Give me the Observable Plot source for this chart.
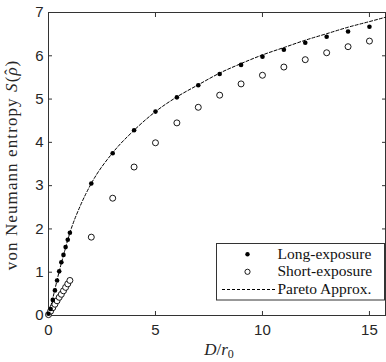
<!DOCTYPE html>
<html>
<head>
<meta charset="utf-8">
<script src="https://cdn.jsdelivr.net/npm/d3@7"></script>
<script src="https://cdn.jsdelivr.net/npm/@observablehq/plot@0.6"></script>
<style>
  html, body { margin: 0; padding: 0; background: #fff; }
  #chart svg { display: block; }
</style>
</head>
<body>
<div id="chart"></div>
<script>
// D/r0 sample positions
const dValues = [0, 0.1, 0.2, 0.3, 0.4, 0.5, 0.6, 0.7, 0.8, 0.9, 1, 2, 3, 4, 5, 6, 7, 8, 9, 10, 11, 12, 13, 14, 15];
// Long-exposure entropy
const longExposure = [0.04, 0.15, 0.36, 0.58, 0.81, 1.02, 1.23, 1.40, 1.58, 1.75, 1.91, 3.05, 3.75, 4.28, 4.71, 5.04, 5.32, 5.58, 5.79, 5.98, 6.14, 6.30, 6.44, 6.56, 6.67];
// Short-exposure entropy
const shortExposure = [0.02, 0.10, 0.18, 0.26, 0.34, 0.42, 0.49, 0.57, 0.65, 0.73, 0.81, 1.81, 2.71, 3.43, 3.99, 4.45, 4.81, 5.09, 5.35, 5.55, 5.74, 5.91, 6.07, 6.21, 6.34];
// Pareto approximation curve
const paretoD = [0, 0.25, 0.5, 0.75, 1, 1.5, 2, 3, 4, 5, 6, 7, 8, 9, 10, 11, 12, 13, 14, 15, 15.75];
const paretoS = [0, 0.5, 1.02, 1.48, 1.91, 2.55, 3.05, 3.76, 4.28, 4.71, 5.05, 5.33, 5.6, 5.82, 6.02, 6.19, 6.36, 6.51, 6.66, 6.79, 6.89];
// Ticks
const xTicks = [0, 5, 10, 15];
const yTicks = [0, 1, 2, 3, 4, 5, 6, 7];
const legendLabels = ["Long-exposure", "Short-exposure", "Pareto Approx."];

const longData = dValues.map((d, i) => ({D: d, S: longExposure[i]}));
const shortData = dValues.map((d, i) => ({D: d, S: shortExposure[i]}));
const paretoData = paretoD.map((d, i) => ({D: d, S: paretoS[i]}));

const axisColor = "#333";
const tickFont = "'Liberation Sans', Arial, sans-serif";

const plot = Plot.plot({
  width: 386,
  height: 362,
  marginLeft: 48,
  marginRight: 1,
  marginTop: 12,
  marginBottom: 47,
  style: {fontFamily: tickFont, fontSize: "15px", color: "#262626", background: "white"},
  x: {domain: [0, 15.75]},
  y: {domain: [0, 7]},
  marks: [
    Plot.frame({stroke: axisColor, strokeWidth: 1}),
    Plot.axisX(xTicks, {anchor: "bottom", tickSize: 0, tickPadding: 9, label: null, fill: "#262626", fontSize: 15}),
    Plot.axisX(xTicks, {anchor: "bottom", tickSize: -4, tickFormat: () => "", label: null, stroke: axisColor}),
    Plot.axisX(xTicks, {anchor: "top", tickSize: -4, tickFormat: () => "", label: null, stroke: axisColor}),
    Plot.axisY(yTicks, {anchor: "left", tickSize: 0, tickPadding: 5, label: null, fill: "#262626", fontSize: 15}),
    Plot.axisY(yTicks, {anchor: "left", tickSize: -4, tickFormat: () => "", label: null, stroke: axisColor}),
    Plot.axisY(yTicks, {anchor: "right", tickSize: -4, tickFormat: () => "", label: null, stroke: axisColor}),
    Plot.line(paretoData, {x: "D", y: "S", stroke: "black", strokeWidth: 1, strokeDasharray: "3,2", curve: "monotone-x"}),
    Plot.dot(shortData, {x: "D", y: "S", r: 3, stroke: "black", fill: "white", strokeWidth: 0.9}),
    Plot.dot(longData, {x: "D", y: "S", r: 2.3, fill: "black", stroke: "none"})
  ]
});

document.getElementById("chart").appendChild(plot);

const svg = d3.select(plot);
const serif = "'Liberation Serif', 'Times New Roman', serif";

// x-axis title: D/r0
const xt = svg.append("text")
  .attr("x", 219).attr("y", 355)
  .attr("text-anchor", "middle")
  .attr("font-family", serif).attr("font-size", 17).attr("fill", "#262626");
xt.append("tspan").attr("font-style", "italic").text("D");
xt.append("tspan").text("/");
xt.append("tspan").attr("font-style", "italic").text("r");
xt.append("tspan").attr("font-size", 12).attr("dy", 3).text("0");

// y-axis title
const yt = svg.append("text")
  .attr("transform", "translate(17,165) rotate(-90)")
  .attr("text-anchor", "middle")
  .attr("font-family", serif).attr("font-size", 17).attr("fill", "#262626")
  .attr("letter-spacing", 1.1);
yt.append("tspan").text("von Neumann entropy ");
yt.append("tspan").attr("font-style", "italic").text("S");
yt.append("tspan").text("(");
yt.append("tspan").attr("font-style", "italic").text("\u03C1");
yt.append("tspan").attr("dx", -8.6).attr("dy", -1).text("\u02C6");
yt.append("tspan").attr("dx", 1.6).attr("dy", 1).text(")");

// legend
const lg = svg.append("g").attr("text-anchor", "start");
lg.append("rect").attr("x", 216.5).attr("y", 243.5).attr("width", 168).attr("height", 56.5)
  .attr("fill", "white").attr("stroke", axisColor).attr("stroke-width", 1);
const rowY = [254.3, 271.8, 289.5];
lg.append("circle").attr("cx", 247.5).attr("cy", rowY[0]).attr("r", 2.2).attr("fill", "black");
lg.append("circle").attr("cx", 247.5).attr("cy", rowY[1]).attr("r", 2.6).attr("fill", "white").attr("stroke", "black").attr("stroke-width", 0.9);
lg.append("line").attr("x1", 222).attr("x2", 275).attr("y1", rowY[2]).attr("y2", rowY[2])
  .attr("stroke", "black").attr("stroke-width", 1).attr("stroke-dasharray", "3,2");
legendLabels.forEach((t, i) => {
  lg.append("text").attr("x", 277.5).attr("y", rowY[i] + 4.5)
    .attr("text-anchor", "start")
    .attr("font-family", serif).attr("font-size", 15.5).attr("fill", "#111").text(t);
});
</script>
</body>
</html>
